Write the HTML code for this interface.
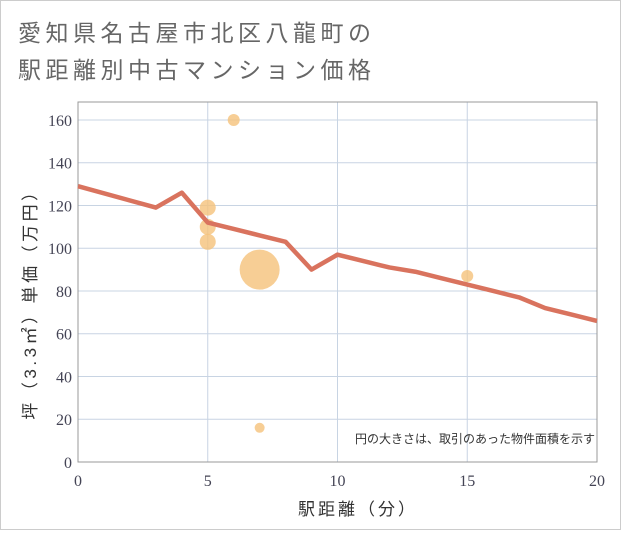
<!DOCTYPE html>
<html><head><meta charset="utf-8"><style>
body{margin:0;background:#fff;}
svg text{font-family:"Liberation Sans","Noto Sans CJK JP",sans-serif;}
.tick{font-family:"Liberation Serif","Noto Serif CJK SC",serif;font-size:16px;fill:#445;}
</style></head><body>
<svg id="c" width="621" height="530" xmlns="http://www.w3.org/2000/svg">
<rect x="0.5" y="0.5" width="620" height="529" fill="#fff" stroke="#ccc"/>
<text x="18" y="41" font-size="23" letter-spacing="4.5" fill="#666">愛知県名古屋市北区八龍町の</text>
<text x="18" y="78" font-size="23" letter-spacing="4.5" fill="#666">駅距離別中古マンション価格</text>
<g id="grid"></g><g id="marks"></g>
<text x="595" y="443" font-size="12" fill="#333" text-anchor="end">円の大きさは、取引のあった物件面積を示す</text>
<text x="358" y="515" font-size="17" letter-spacing="3" fill="#333" text-anchor="middle">駅距離（分）</text>
<text transform="translate(36,300) rotate(-90)" font-size="17" letter-spacing="3.5" fill="#333" text-anchor="middle">坪（3.3㎡）単価（万円）</text>
</svg>
<script>
const xTicks=[0,5,10,15,20];
const yTicks=[0,20,40,60,80,100,120,140,160];
const lineX=[0,3,4,5,6,7,8,9,10,11,12,13,14,15,16,17,18,19,20];
const lineY=[129,119,126,112,109,106,103,90,97,94,91,89,86,83,80,77,72,69,66];
const bubX=[6,5,5,5,7,7,15];
const bubY=[160,119,110,103,90,16,87];
const bubR=[6,8,8,8,20,5,6];
const L=78,R=597,T=102,B=462;
const sx=v=>L+(R-L)*v/20, sy=v=>B-(B-T)*v/168.4;
const NS="http://www.w3.org/2000/svg";
const g=document.getElementById('grid'), m=document.getElementById('marks');
function mk(p,tag,a){const e=document.createElementNS(NS,tag);for(const k in a)e.setAttribute(k,a[k]);p.appendChild(e);return e;}
xTicks.forEach(v=>{const l=mk(g,'line',{x1:sx(v),x2:sx(v),y1:T,y2:B,stroke:'#c8d4e3'});


const t=mk(g,'text',{x:sx(v),y:B+24,'text-anchor':'middle',class:'tick'});t.textContent=v;

});
yTicks.forEach(v=>{const l=mk(g,'line',{x1:L,x2:R,y1:sy(v),y2:sy(v),stroke:'#c8d4e3'});


const t=mk(g,'text',{x:L-6,y:sy(v)+6,'text-anchor':'end',class:'tick'});t.textContent=v;

});
const fr=mk(g,'rect',{x:L,y:T,width:R-L,height:B-T,fill:'none',stroke:'#999'});


bubX.forEach((v,i)=>{const c=mk(m,'circle',{cx:sx(v),cy:sy(bubY[i]),r:bubR[i],fill:'#f5c27a',opacity:0.8});

});
const p=mk(m,'polyline',{points:lineX.map((v,i)=>sx(v)+','+sy(lineY[i])).join(' '),fill:'none',stroke:'#d9735e','stroke-width':4.5,'stroke-linejoin':'round'});


</script>
</body></html>
